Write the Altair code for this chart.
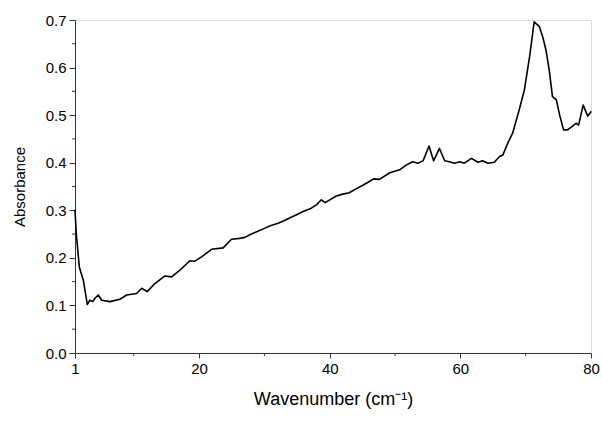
import altair as alt
import pandas as pd

wavenumber = [1.0, 1.2, 1.66, 2.27, 2.88, 3.29, 3.71, 4.06, 4.56, 5.08, 6.35, 7.88, 8.9, 10.43,
              11.2, 12.06, 13.23, 14.76, 15.79, 17.06, 18.58, 19.35, 20.37, 21.9, 23.68, 24.96,
              26.2, 27.0, 28.0, 29.0, 30.0, 31.0, 32.0, 33.0, 34.0, 35.0, 36.0, 37.0, 38.0,
              38.7, 39.3, 40.0, 41.0, 42.0, 43.0, 44.0, 45.0, 46.0, 46.7, 47.6, 49.2, 50.7,
              51.7, 52.7, 53.5, 54.3, 55.2, 55.9, 56.8, 57.6, 58.3, 59.1, 59.9, 60.6, 61.7,
              62.7, 63.4, 64.2, 65.2, 66.0, 66.5, 67.25, 68.0, 69.0, 69.8, 70.6, 71.3, 72.1,
              72.6, 73.1, 73.6, 74.1, 74.7, 75.2, 75.8, 76.4, 77.2, 77.7, 78.1, 78.8, 79.5, 80.0]
absorbance = [0.30, 0.25, 0.181, 0.153, 0.102, 0.111, 0.108, 0.115, 0.122, 0.111, 0.108, 0.113,
              0.122, 0.125, 0.136, 0.129, 0.146, 0.162, 0.160, 0.174, 0.194, 0.193, 0.202, 0.218,
              0.221, 0.239, 0.241, 0.243, 0.250, 0.256, 0.262, 0.268, 0.272, 0.278, 0.285,
              0.291, 0.298, 0.303, 0.312, 0.322, 0.316, 0.322, 0.330, 0.334, 0.337, 0.345,
              0.352, 0.360, 0.366, 0.365, 0.379, 0.385, 0.395, 0.402, 0.399, 0.404, 0.435,
              0.404, 0.430, 0.404, 0.402, 0.399, 0.402, 0.399, 0.409, 0.401, 0.404, 0.399,
              0.401, 0.413, 0.416, 0.441, 0.462, 0.511, 0.553, 0.623, 0.696, 0.686, 0.665,
              0.637, 0.595, 0.539, 0.532, 0.500, 0.469, 0.469, 0.477, 0.483, 0.479, 0.521,
              0.498, 0.507]

x_ticks = [1, 20, 40, 60, 80]
x_minor = [10, 30, 50, 70]
y_ticks = [0.0, 0.1, 0.2, 0.3, 0.4, 0.5, 0.6, 0.7]
y_minor = [0.05, 0.15, 0.25, 0.35, 0.45, 0.55, 0.65]

df = pd.DataFrame({"w": wavenumber, "a": absorbance})
FONT = "Liberation Sans"
W, H = 516, 333

xscale = alt.Scale(domain=[1, 80], nice=False, zero=False)
yscale = alt.Scale(domain=[0, 0.7], nice=False)

line = alt.Chart(df).mark_line(color="black", strokeWidth=1.6, strokeJoin="round",
                               strokeCap="round").encode(
    x=alt.X("w:Q", scale=xscale,
            axis=alt.Axis(values=x_ticks, title="Wavenumber (cm⁻¹)", grid=False,
                          tickSize=5, labelPadding=3, labelFontSize=15, titleFontSize=18,
                          titleFontWeight="normal", titlePadding=14, labelFlush=False,
                          domainColor="#333", tickColor="#333", labelColor="black",
                          titleColor="black", labelFont=FONT, titleFont=FONT)),
    y=alt.Y("a:Q", scale=yscale,
            axis=alt.Axis(values=y_ticks, format=".1f", title="Absorbance", grid=False,
                          tickSize=6, labelPadding=3, labelFontSize=15, titleFontSize=15,
                          titleFontWeight="normal", titlePadding=18, labelFlush=False,
                          domainColor="#333", tickColor="#333", labelColor="black",
                          titleColor="black", labelFont=FONT, titleFont=FONT)),
)

xm = alt.Chart(pd.DataFrame({"w": x_minor})).mark_rule(color="#333", strokeWidth=1).encode(
    x=alt.X("w:Q", scale=xscale), y=alt.value(H), y2=alt.value(H + 3))
ym = alt.Chart(pd.DataFrame({"a": y_minor})).mark_rule(color="#333", strokeWidth=1).encode(
    y=alt.Y("a:Q", scale=yscale), x=alt.value(0), x2=alt.value(-3))

chart = alt.layer(line, xm, ym).properties(
    width=W, height=H,
    autosize=alt.AutoSizeParams(type="none"),
    padding={"left": 75, "top": 20, "right": 11, "bottom": 69},
).configure_view(stroke=None).configure(background="white")

chart.save("out.html", embed_options={"renderer": "svg", "actions": False})
